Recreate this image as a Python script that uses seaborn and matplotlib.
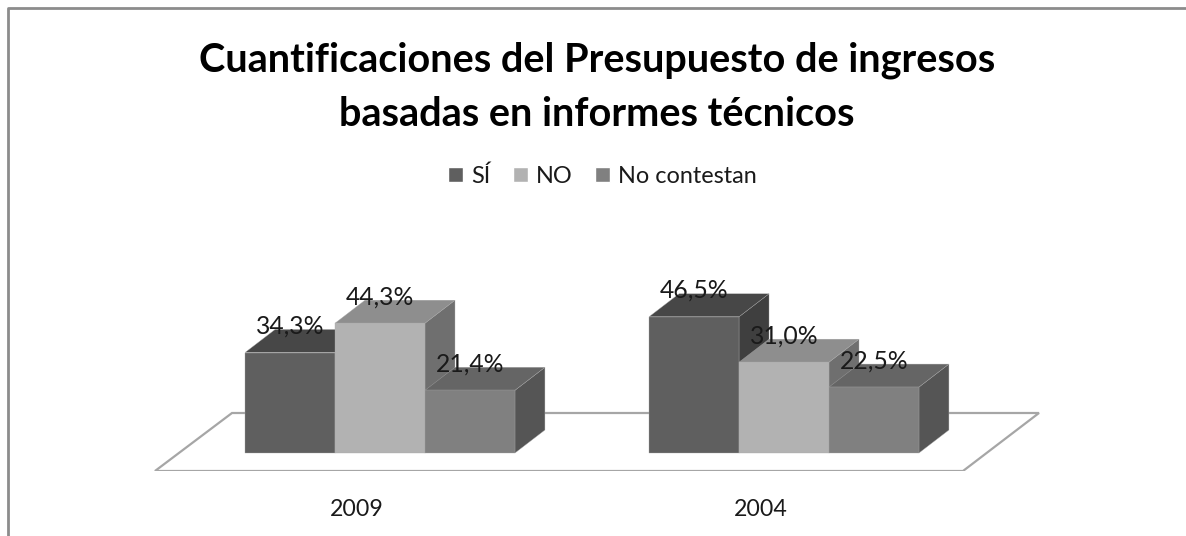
import matplotlib
matplotlib.use("Agg")
import matplotlib.pyplot as plt
from matplotlib.lines import Line2D
from matplotlib.patches import Polygon
from matplotlib.transforms import ScaledTranslation
import pandas as pd
import seaborn as sns

years = ["2009", "2004"]
answers = ["SÍ", "NO", "No contestan"]
si = [34.3, 46.5]
no = [44.3, 31.0]
no_contestan = [21.4, 22.5]

front_colors = ["#5f5f5f", "#b2b2b2", "#808080"]
top_colors = ["#474747", "#8e8e8e", "#656565"]
side_colors = ["#3f3f3f", "#6f6f6f", "#555555"]

df = pd.DataFrame({
    "year": years * 3,
    "answer": [answers[0]] * 2 + [answers[1]] * 2 + [answers[2]] * 2,
    "value": si + no + no_contestan,
})

W, H = 1186, 536
sns.set_style("white")
plt.rcParams["font.family"] = ["Lato", "DejaVu Sans"]

fig = plt.figure(figsize=(W / 100, H / 100), dpi=100)

# axes covers the floor, bars stick out of the top on purpose
left, right, top, bottom = 150, 1045, 260, 471
ax = fig.add_axes([left / W, 1 - bottom / H, (right - left) / W, (bottom - top) / H])
ax.patch.set_alpha(0)

sns.barplot(data=df, x="year", y="value", hue="answer", order=years, hue_order=answers,
            palette=front_colors, width=0.668, gap=0, saturation=1, errorbar=None, ax=ax)

# pixel sizes -> data units
px_x = 1 / 404
px_y = 1 / 2.93
ax.set_xlim((left - 380) * px_x, (right - 380) * px_x)
ax.set_ylim((453 - bottom) * px_y, (453 - top) * px_y)

dx, dy = 30 * px_x, 23 * px_y

# floor
floor_x = [155, 963, 1039, 232]
floor_y = [471, 471, 413, 413]
floor = [((a - 380) * px_x, (453 - b) * px_y) for a, b in zip(floor_x, floor_y)]
ax.add_patch(Polygon(floor, closed=True, facecolor="white", edgecolor="#a6a6a6", lw=1.6, zorder=1))

# extrude each bar
for i, cont in enumerate(ax.containers):
    for j, bar in enumerate(cont):
        x0, w, h = bar.get_x(), bar.get_width(), bar.get_height()
        z = 3 + (j * 10) + i * 3
        edge = "#a8a8a8"
        ax.add_patch(Polygon([(x0 + w, 0), (x0 + w + dx, dy), (x0 + w + dx, h + dy), (x0 + w, h)],
                             closed=True, facecolor=side_colors[i], edgecolor=edge, lw=0.25, zorder=z))
        ax.add_patch(Polygon([(x0, h), (x0 + w, h), (x0 + w + dx, h + dy), (x0 + dx, h + dy)],
                             closed=True, facecolor=top_colors[i], edgecolor=edge, lw=0.25, zorder=z + 1))
        bar.set_edgecolor(edge)
        bar.set_linewidth(0.25)
        bar.set_zorder(z + 2)
        ax.annotate(f"{h:.1f}%".replace(".", ","), (x0 + w / 2, h), xytext=(0, 19), textcoords="offset points",
                    ha="center", va="center", fontsize=17.8, color="#1a1a1a", zorder=50,
                    annotation_clip=False)

ax.set_xlabel("")
ax.set_ylabel("")
ax.set_yticks([])
ax.tick_params(axis="x", length=0, pad=20, labelsize=16.7, labelcolor="#1a1a1a")
# year labels sit under the middle of the floor, left of the bar groups
shift = ScaledTranslation(-23 / 100, 0, fig.dpi_scale_trans)
for lab in ax.get_xticklabels():
    lab.set_transform(lab.get_transform() + shift)
sns.despine(ax=ax, left=True, bottom=True)

ax.legend(loc="center", bbox_to_anchor=(602.5 / W, 1 - 176 / H), bbox_transform=fig.transFigure, ncol=3,
          frameon=False, fontsize=16.9, handlelength=0.64, handleheight=0.64, handletextpad=0.35,
          columnspacing=0.95, labelcolor="#1a1a1a")

fig.text(597 / W, 1 - 87 / H, "Cuantificaciones del Presupuesto de ingresos\nbasadas en informes técnicos",
         ha="center", va="center", fontsize=28.5, fontweight="bold", color="black", linespacing=1.55)

# chart frame, only left and top are inside the picture
fig.add_artist(Line2D([8 / W, 8 / W, 1], [0, 1 - 8 / H, 1 - 8 / H], transform=fig.transFigure,
                      color="#8c8c8c", lw=2))

fig.savefig("out.png", dpi=100)
